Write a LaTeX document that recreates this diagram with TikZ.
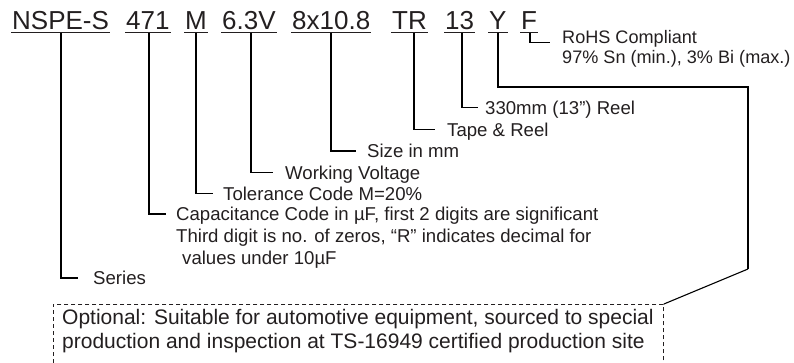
\documentclass[tikz,border=0pt]{standalone}
\usepackage{fontspec}
\setmainfont{Liberation Sans}
\usetikzlibrary{calc}
\definecolor{ink}{HTML}{231F20}
\begin{document}
\begin{tikzpicture}[x=1pt,y=-1pt,
  code/.style={font=\fontsize{26}{30}\selectfont, text=ink, inner sep=0pt, anchor=base west},
  lbl/.style={font=\fontsize{18.6}{22}\selectfont, text=ink, inner sep=0pt, text height=13.3pt, text depth=0pt, anchor=west},
  lblr/.style={lbl, font=\fontsize{18.1}{22}\selectfont},
  boxtxt/.style={font=\fontsize{21}{24}\selectfont, text=ink, inner sep=0pt, text height=15pt, text depth=0pt, anchor=west},
  uline/.style={draw=ink, line width=1.6pt},
  conn/.style={draw=black, line width=1.8pt},
  thin/.style={draw=black, line width=1.1pt},
  optbox/.style={draw=ink, line width=0.9pt, dash pattern=on 4pt off 3pt, inner sep=0pt, anchor=north west}]
\useasboundingbox (0,0) rectangle (794,362);
\clip (0,0) rectangle (794,362);

% part number fields
\node[code] (c1) at (12,29) {NSPE-S};
\node[code] (c2) at (126,29) {471};
\node[code] (c3) at (185,29) {M};
\node[code] (c4) at (222,29) {6.3V};
\node[code] (c5) at (292,29) {8x10.8};
\node[code] (c6) at (392,29) {TR};
\node[code] (c7) at (445,29) {13};
\node[code] (c8) at (489,29) {Y};
\node[code] (c9) at (521,29) {F};
\foreach \n in {c1,c2,c3,c4,c5,c6,c7,c8,c9}
  \draw[uline] ([xshift=-1pt,yshift=-3.5pt]\n.base west) -- ([xshift=1pt,yshift=-3.5pt]\n.base east);

% labels
\node[lblr] (rohs) at (562,36.5) {RoHS Compliant};
\node[lblr] (rohs2) at (562,56.5) {97\% Sn (min.), 3\% Bi (max.)};
\node[lbl] (reel) at (485,107.5) {330mm (13”) Reel};
\node[lbl] (tape) at (447,129.5) {Tape \& Reel};
\node[lbl] (size) at (367,151) {Size in mm};
\node[lbl] (volt) at (285,172.5) {Working Voltage};
\node[lbl] (tol) at (223,193.5) {Tolerance Code M=20\%};
\node[lbl] (cap1) at (176,214) {Capacitance Code in µF, first 2 digits are significant};
\node[lbl] (cap2) at (176,236) {Third digit is no. of zeros, “R” indicates decimal for};
\node[lbl] (cap3) at (182,258) {values under 10µF};
\node[lbl] (series) at (93,278) {Series};

% optional box
\node[optbox, minimum width=610pt, minimum height=90pt] (opt) at (53,304) {};
\node[boxtxt] (opt1) at (62,316.5) {Optional: Suitable for automotive equipment, sourced to special};
\node[boxtxt] (opt2) at (62,340.5) {production and inspection at TS-16949 certified production site};

% connectors
\draw[conn] ([yshift=-3.5pt]c1.base) |- ([xshift=-15pt]series.west);
\draw[conn] ([xshift=1pt,yshift=-3.5pt]c2.base) |- ([xshift=-10pt]cap1.west);
\draw[conn] ([yshift=-3.5pt]c3.base) |- ([xshift=-10pt]tol.west);
\draw[conn] ([xshift=2pt,yshift=-3.5pt]c4.base) |- ([xshift=-12pt]volt.west);
\draw[conn] ([yshift=-3.5pt]c5.base) |- ([xshift=-11pt]size.west);
\draw[conn] ([xshift=4.5pt,yshift=-3.5pt]c6.base) |- ([xshift=-12pt]tape.west);
\draw[conn] ([xshift=2.5pt,yshift=-3.5pt]c7.base) |- ([xshift=-7pt]reel.west);
\draw[conn] ([xshift=0.5pt,yshift=-3.5pt]c9.base) |- ([xshift=-12pt,yshift=-6pt]rohs.west);
\coordinate (ybend) at (748,269);
\draw[conn] ([yshift=-3.5pt]c8.base) -- ++(0,54.5) -| (ybend);
\draw[thin] (ybend) -- (opt.north east);
\end{tikzpicture}
\end{document}
